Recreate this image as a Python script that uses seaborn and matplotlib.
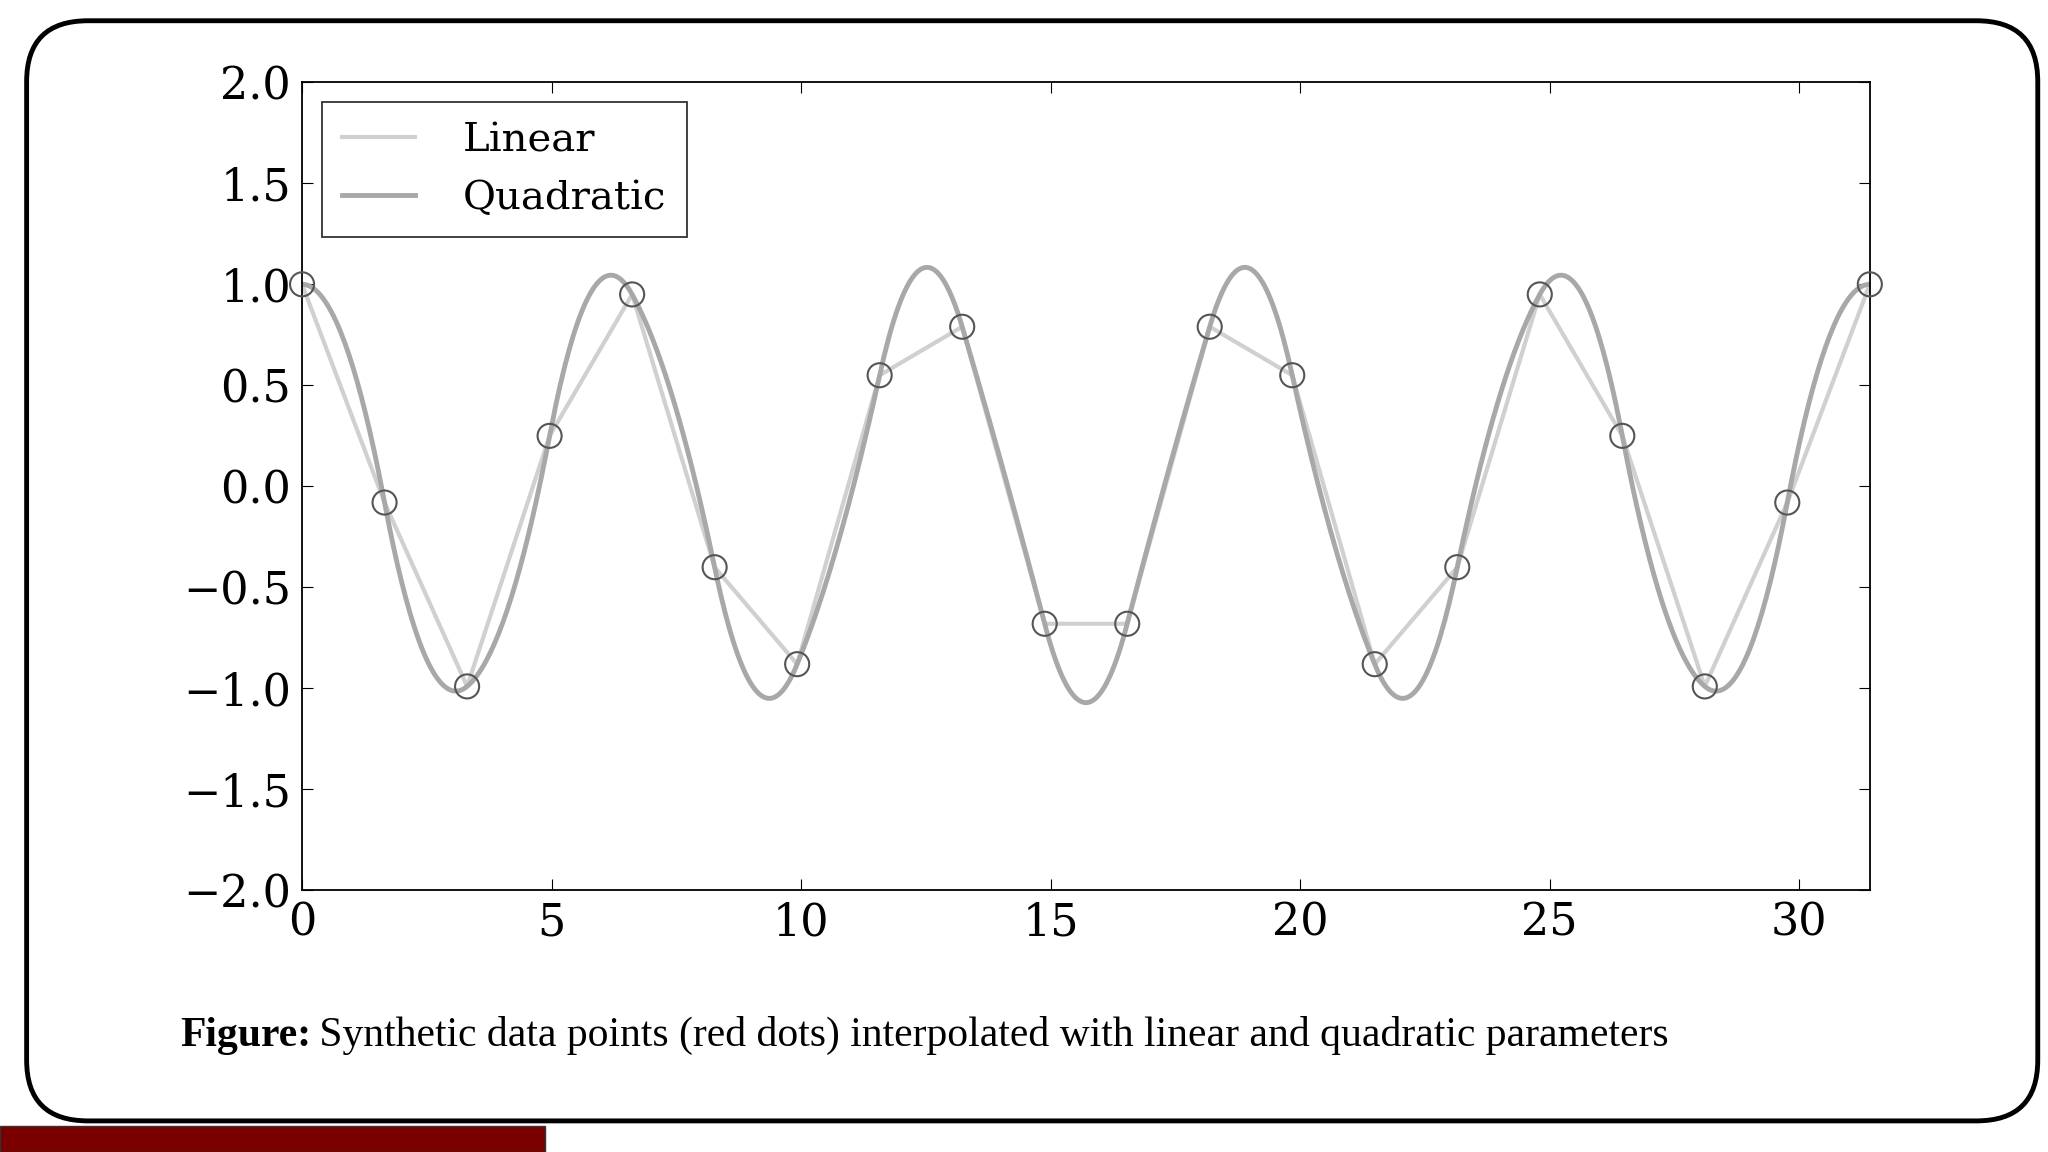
import numpy as np
import matplotlib
matplotlib.use("Agg")
import matplotlib.pyplot as plt
from matplotlib.patches import FancyBboxPatch, Rectangle
import seaborn as sns
import pandas as pd

x_points = [0.0, 1.653, 3.307, 4.960, 6.614, 8.267, 9.921, 11.574, 13.228, 14.881,
            16.535, 18.188, 19.842, 21.495, 23.149, 24.802, 26.456, 28.109, 29.762, 31.416]
y_points = [1.00, -0.08, -0.99, 0.25, 0.95, -0.40, -0.88, 0.55, 0.79, -0.68,
            -0.68, 0.79, 0.55, -0.88, -0.40, 0.95, 0.25, -0.99, -0.08, 1.00]
x_ticks = [0, 5, 10, 15, 20, 25, 30]
y_ticks = [-2.0, -1.5, -1.0, -0.5, 0.0, 0.5, 1.0, 1.5, 2.0]
caption_bold = "Figure:"
caption_text = " Synthetic data points (red dots) interpolated with linear and quadratic parameters"

# C1 quadratic spline through the data points (zero start slope)
xp = np.array(x_points); yp = np.array(y_points)
qx, qy = [], []
b = 0.0
for i in range(len(xp) - 1):
    h = xp[i+1] - xp[i]
    c = (yp[i+1] - yp[i] - b * h) / h**2
    t = np.linspace(xp[i], xp[i+1], 40)
    qx.extend(t); qy.extend(yp[i] + b * (t - xp[i]) + c * (t - xp[i])**2)
    b = b + 2 * c * h
df_q = pd.DataFrame({"x": qx, "y": qy})
df_p = pd.DataFrame({"x": x_points, "y": y_points})

plt.rcParams["font.family"] = "DejaVu Serif"
fig = plt.figure(figsize=(20.48, 11.52), dpi=100)
fig.patches.append(FancyBboxPatch((0.013, 0.027), 0.982, 0.955, boxstyle="round,pad=0,rounding_size=0.03",
                                  transform=fig.transFigure, fill=False, ec="black", lw=3.5, mutation_aspect=1.76))
fig.patches.append(Rectangle((0, 0), 0.266, 0.023, transform=fig.transFigure, fc="#7a0000", ec="#333", lw=1))

ax = fig.add_axes([0.1475, 0.227, 0.7655, 0.7016])
sns.lineplot(data=df_p, x="x", y="y", ax=ax, color="#d0d0d0", lw=3, label="Linear", sort=False)
sns.lineplot(data=df_q, x="x", y="y", ax=ax, color="#a8a8a8", lw=3.5, label="Quadratic", sort=False)
ax.scatter(x_points, y_points, s=300, facecolors="none", edgecolors="#555555", lw=1.5, zorder=5, clip_on=False)
ax.set_xlim(0, 31.416); ax.set_ylim(-2, 2)
ax.set_xticks(x_ticks); ax.set_yticks(y_ticks)
ax.set_yticklabels([f"{v:.1f}".replace("-", "\u2212") for v in y_ticks])
ax.set_xlabel(""); ax.set_ylabel("")
ax.tick_params(direction="in", top=True, right=True, labelsize=32, length=8, pad=8)
for s in ax.spines.values():
    s.set_linewidth(1.3)
leg = ax.legend(loc="upper left", fontsize=29, frameon=True, fancybox=False, edgecolor="black",
                handlelength=1.8, borderpad=0.5, handletextpad=1.2)
leg.get_frame().set_linewidth(1.3)

fig.text(0.088, 0.101, caption_bold, fontsize=30, fontweight="bold", va="center", ha="left",
         family="Liberation Serif")
fig.text(0.151, 0.101, caption_text, fontsize=30, va="center", ha="left", family="Liberation Serif")
fig.savefig("out.png", dpi=100)
